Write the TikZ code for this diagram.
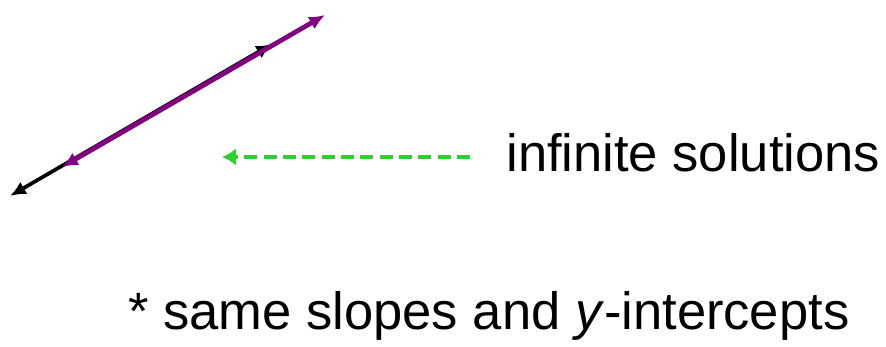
\documentclass[tikz,border=0pt]{standalone}
\usepackage{fontspec}
\setmainfont{Liberation Sans}
\usepackage{tikz}
\usetikzlibrary{arrows.meta,positioning,calc}
\definecolor{mypurple}{RGB}{128,0,128}
\definecolor{mygreen}{RGB}{50,205,50}
\tikzset{
  bothtips/.style={{Latex[length=9pt,width=8pt]}-{Latex[length=9pt,width=8pt]}},
  bigtext/.style={font=\fontsize{29.9}{36}\selectfont, inner sep=0pt, anchor=base west}
}
\begin{document}
\begin{tikzpicture}[x=0.02cm, y=-0.02cm]
  \useasboundingbox (0,0) rectangle (886,347);
  % two lines lying on top of each other
  \coordinate (ba) at (10,196);
  \coordinate (bb) at (272,44);
  \coordinate (pa) at (62,167);
  \coordinate (pb) at (325,15);
  \draw[black, line width=2.1pt, bothtips] (ba) -- (bb);
  \draw[mypurple, line width=2.7pt, bothtips] (pa) -- (pb);
  % label and pointer
  \node[bigtext](inf) at (506,172){infinite solutions};
  \coordinate (gs) at (470,157);
  \coordinate (gt) at (222,157);
  \draw[mygreen, line width=2.5pt, dash pattern=on 7.5pt off 3.5pt, -{Latex[length=8pt,width=10pt]}] (gs) -- (gt);
  \node[bigtext](note) at (128,330){* same slopes and \textit{y}-intercepts};
\end{tikzpicture}
\end{document}
